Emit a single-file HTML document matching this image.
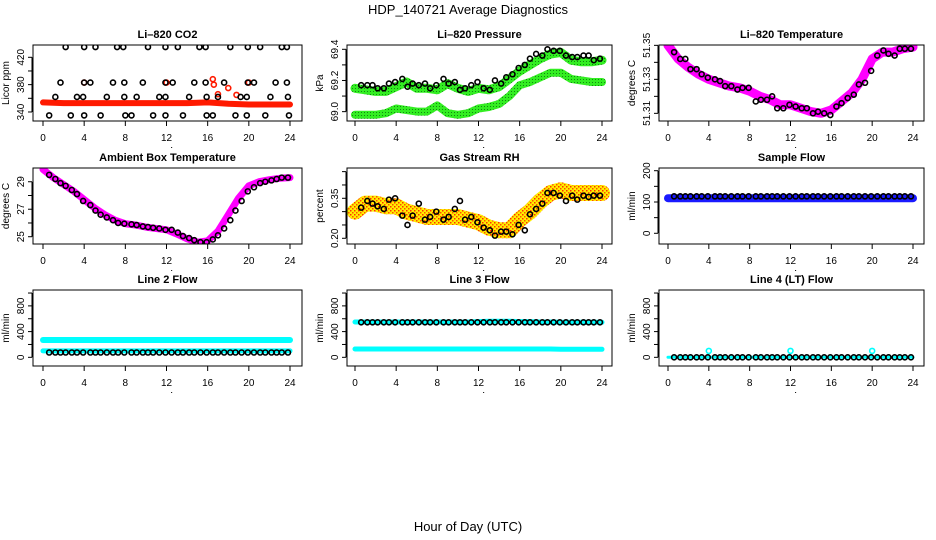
<!DOCTYPE html>
<html><head><meta charset="utf-8"><style>
html,body{margin:0;padding:0;background:#fff;}
svg{display:block;font-family:"Liberation Sans",sans-serif;}
</style></head><body>
<svg id="chart" width="936" height="540" viewBox="0 0 936 540">
<defs>
<pattern id="rhpat" width="4" height="4" patternUnits="userSpaceOnUse">
<rect width="4" height="4" fill="#ffee00"/><rect x="0" y="0" width="1.5" height="1.5" fill="#ff5000"/><rect x="2" y="2" width="1.5" height="1.5" fill="#ff3000"/>
</pattern>
<pattern id="grpat" width="3" height="3" patternUnits="userSpaceOnUse">
<rect width="3" height="3" fill="#33ee22"/><rect x="1" y="1" width="1" height="1" fill="#118811"/>
</pattern>
</defs>
<text x="468" y="14" text-anchor="middle" font-size="13">HDP_140721  Average Diagnostics</text>
<text x="468" y="531" text-anchor="middle" font-size="13">Hour of Day (UTC)</text>
</svg>
<script>
// shared categories
const HOURS = [0,1,2,3,4,5,6,7,8,9,10,11,12,13,14,15,16,17,18,19,20,21,22,23,24];
const PTS_T = [0.6,1.2,1.7,2.2,2.8,3.3,3.9,4.6,5.1,5.6,6.2,6.8,7.3,7.9,8.6,9.1,9.7,10.2,10.7,11.3,11.9,12.5,13.1,13.6,14.2,14.7,15.3,15.9,16.5,17.0,17.6,18.2,18.7,19.3,19.9,20.5,21.1,21.6,22.2,22.7,23.2,23.8];
const X_TICKS = [0,4,8,12,16,20,24];

// CO2
const co2Band = [354,353,353,353,353,353,353,353,354,352,351,351,351];
const co2BandT = [0,2,4,6,8,10,12,14,16,18,20,22,24];
const co2PtT = [2.2,4.0,5.1,7.2,7.8,10.2,11.9,13.1,15.2,15.8,18.2,19.9,21.1,23.2,23.7, 1.7,4.0,4.6,6.8,7.9,9.7,11.9,12.6,14.7,15.8,17.6,19.9,20.5,22.6,23.7, 1.2,3.3,3.9,6.2,7.9,9.1,11.3,11.9,14.2,15.9,17.0,19.2,19.8,22.1,23.8, 0.6,2.7,4.0,5.6,8.0,8.6,10.7,11.9,13.6,15.9,16.5,18.7,19.8,21.6,23.9];
const co2PtV = [435,435,435,435,435,435,435,435,435,435,435,435,435,435,435, 383,383,383,383,383,383,383,383,383,383,383,383,383,383,383, 362,362,362,362,362,362,362,362,362,362,362,362,362,362,362, 335,335,335,335,335,335,335,335,335,335,335,335,335,335,335];
const co2OutT = [4,12,16.5,16.6,17.0,18.0,18.8,20];
const co2OutV = [383,383,388,380,366,375,365,383];

// Pressure
const presUpper = [69.15,69.14,69.13,69.13,69.16,69.19,69.15,69.15,69.14,69.18,69.15,69.13,69.15,69.14,69.16,69.21,69.26,69.30,69.34,69.37,69.38,69.33,69.32,69.32,69.33];
const presLower = [68.98,68.98,68.98,68.99,69.02,69.01,69.00,69.00,69.04,68.99,68.98,68.99,69.02,69.03,69.05,69.10,69.17,69.19,69.22,69.25,69.25,69.21,69.20,69.19,69.19];
const presPts = [69.17,69.17,69.17,69.15,69.15,69.18,69.19,69.21,69.16,69.18,69.17,69.18,69.15,69.17,69.21,69.18,69.19,69.14,69.15,69.17,69.19,69.15,69.14,69.20,69.18,69.22,69.24,69.28,69.30,69.34,69.37,69.36,69.40,69.39,69.39,69.36,69.35,69.35,69.36,69.36,69.33,69.34];

// Li-820 temperature
const tempBand = [51.350,51.342,51.337,51.333,51.330,51.328,51.326,51.325,51.323,51.320,51.318,51.315,51.315,51.313,51.311,51.310,51.312,51.317,51.322,51.330,51.342,51.346,51.346,51.348,51.349];
const tempPts = [51.346,51.342,51.342,51.336,51.336,51.333,51.331,51.330,51.329,51.326,51.326,51.324,51.325,51.325,51.317,51.318,51.318,51.320,51.313,51.313,51.315,51.314,51.313,51.313,51.310,51.311,51.310,51.309,51.314,51.316,51.319,51.321,51.327,51.328,51.335,51.344,51.347,51.345,51.344,51.348,51.348,51.348];

// Ambient
const ambBand = [29.9,29.3,28.8,28.3,27.7,27.1,26.6,26.2,25.95,25.85,25.7,25.6,25.5,25.2,24.85,24.6,24.7,25.4,26.6,27.8,28.7,29.0,29.15,29.25,29.3];
const ambPts = [29.5,29.2,28.9,28.7,28.4,28.1,27.6,27.3,26.9,26.6,26.4,26.2,26.0,25.95,25.9,25.85,25.75,25.7,25.65,25.6,25.5,25.5,25.3,25.05,24.9,24.75,24.6,24.6,24.8,25.1,25.6,26.2,26.9,27.6,28.3,28.6,28.9,29.0,29.1,29.2,29.3,29.3];

// RH
const rhBand = [0.30,0.33,0.33,0.32,0.32,0.30,0.29,0.28,0.28,0.28,0.28,0.27,0.26,0.24,0.23,0.23,0.27,0.30,0.34,0.37,0.38,0.37,0.37,0.37,0.37];
const rhPts = [0.315,0.34,0.33,0.32,0.31,0.345,0.35,0.285,0.25,0.285,0.33,0.27,0.28,0.30,0.27,0.28,0.31,0.34,0.27,0.28,0.26,0.24,0.23,0.21,0.225,0.225,0.215,0.25,0.23,0.29,0.31,0.33,0.37,0.37,0.36,0.34,0.36,0.345,0.36,0.355,0.36,0.36];

// Flows
const sampleBand = [112,112,112,112,112,112,112,112,112,112,112,112,112,112,112,112,112,112,112,112,112,112,112,112,112];
const samplePt = 118;
const line2Upper = [270,270,270,270,270,270,270,270,270,270,270,270,270,270,270,270,270,270,270,270,270,270,270,270,270];
const line2Lower = [100,100,100,100,100,100,100,100,100,100,100,100,100,100,100,100,100,100,100,100,100,100,100,100,100];
const line2Pt = 75;
const line3Upper = [550,550,550,550,550,550,550,550,550,550,550,550,555,560,560,560,555,555,550,550,545,545,545,545,545];
const line3Lower = [130,130,130,130,130,130,130,130,130,130,130,130,130,130,130,130,130,130,130,130,125,125,125,125,125];
const line3Pt = 545;
const line4Band = [0,0,0,0,0,0,0,0,0,0,0,0,0,0,0,0,0,0,0,0,0,0,0,0,0];
const line4OutT = [4,12,20];
const line4OutV = [100,100,100];
const line4Pt = 0;

const NS = 'http://www.w3.org/2000/svg';
const svg = document.getElementById('chart');
function mk(tag, attrs, parent){const e=document.createElementNS(NS,tag);for(const k in attrs)e.setAttribute(k,attrs[k]);(parent||svg).appendChild(e);return e;}

const COLS = [{l:33,r:302,x0:43,x24:290},{l:347,r:612,x0:355,x24:602},{l:659,r:924,x0:668,x24:913}];
const ROWS = [{t:45,b:121},{t:168,b:244},{t:290,b:366}];

function panel(ci, ri, name, title, ytitle, ymin, ymax, yticks, ylabels){
  const c=COLS[ci], r=ROWS[ri];
  const g=mk('g',{});
  
  
  const xs=h=>c.x0+(c.x24-c.x0)*h/24;
  const ys=v=>r.b-(v-ymin)/(ymax-ymin)*(r.b-r.t);
  const t=mk('text',{x:(c.l+c.r)/2,y:r.t-7,'text-anchor':'middle','font-size':'11','font-weight':'bold'},g);
  t.textContent=title;
  
  
  const dataG=mk('g',{'clip-path':'url(#clip-'+name+')'},g);
  const cp=mk('clipPath',{id:'clip-'+name},g);
  mk('rect',{x:c.l,y:r.t,width:c.r-c.l,height:r.b-r.t},cp);
  const box=mk('rect',{x:c.l,y:r.t,width:c.r-c.l,height:r.b-r.t,fill:'none',stroke:'#000','stroke-width':'1'},g);
  
  
  const xa=mk('g',{},g);
  
  
  mk('line',{x1:xs(0),x2:xs(24),y1:r.b,y2:r.b,stroke:'#000'},xa);
  X_TICKS.forEach(h=>{
    mk('line',{x1:xs(h),x2:xs(h),y1:r.b,y2:r.b+5,stroke:'#000'},xa);
    const tl=mk('text',{x:xs(h),y:r.b+20,'text-anchor':'middle','font-size':'10'},xa);
    tl.textContent=h;
  });
  mk('rect',{x:xs(12.5)-0.5,y:r.b+26,width:1,height:1,fill:'#000'},xa);
  const ya=mk('g',{},g);
  
  
  const ax=c.l-1;
  mk('line',{x1:ax,x2:ax,y1:ys(yticks[0]),y2:ys(yticks[yticks.length-1]),stroke:'#000'},ya);
  yticks.forEach(v=>mk('line',{x1:ax-4,x2:ax,y1:ys(v),y2:ys(v),stroke:'#000'},ya));
  ylabels.forEach(v=>{
    const yy=ys(v), xx=ax-8;
    const tl=mk('text',{x:xx,y:yy,'text-anchor':'middle','font-size':'10',transform:'rotate(-90 '+xx+' '+yy+')'},ya);
    tl.textContent=v;
  });
  const yt=mk('text',{x:c.l-24,y:(r.t+r.b)/2,'text-anchor':'middle','font-size':'10',transform:'rotate(-90 '+(c.l-24)+' '+((r.t+r.b)/2)+')'},g);
  yt.textContent=ytitle;
  
  
  return {g:dataG,xs,ys};
}
function band(p, T, V, color, w, name){
  const pts=T.map((h,i)=>p.xs(h).toFixed(1)+','+p.ys(V[i]).toFixed(1)).join(' ');
  const e=mk('polyline',{points:pts,fill:'none',stroke:color,'stroke-width':w,'stroke-linejoin':'round','stroke-linecap':'round'},p.g);
  
  
}
function circles(p, T, V, color, name, rr){
  const gg=mk('g',{},p.g);
  
  
  T.forEach((h,i)=>{
    const e=mk('circle',{cx:p.xs(h),cy:p.ys(V[i]),r:rr||2.5,fill:'none',stroke:color,'stroke-width':'1.6'},gg);
    
    
  });
}
const flat=(v)=>PTS_T.map(()=>v);

let p=panel(0,0,'co2-panel','Li\u2013820 CO2','Licor ppm',326.8,438,[340,360,380,400,420],[340,380,420]);
band(p,co2BandT,co2Band,'#ff1a00',6,'co2-band');
circles(p,co2OutT,co2OutV,'#ff1a00','co2-outliers');
circles(p,co2PtT,co2PtV,'#000','co2-averages');

p=panel(1,0,'pressure-panel','Li\u2013820 Pressure','kPa',68.940,69.4276,[69.0,69.1,69.2,69.3,69.4],['69.0','69.2','69.4']);
band(p,HOURS,presUpper,'url(#grpat)',9,'pressure-upper-band');
band(p,HOURS,presLower,'url(#grpat)',8,'pressure-lower-band');
circles(p,PTS_T,presPts,'#000','pressure-averages');

p=panel(2,0,'temperature-panel','Li\u2013820 Temperature','degrees C',51.3055,51.3502,[51.31,51.32,51.33,51.34,51.35],['51.31','51.33','51.35']);
band(p,HOURS,tempBand,'#ff00ff',9,'temperature-band');
circles(p,PTS_T,tempPts,'#000','temperature-averages');

p=panel(0,1,'ambient-panel','Ambient Box Temperature','degrees C',24.47,30.0,[25,26,27,28,29],[25,27,29]);
band(p,HOURS,ambBand,'#ff00ff',7,'ambient-band');
circles(p,PTS_T,ambPts,'#000','ambient-averages');

p=panel(1,1,'rh-panel','Gas Stream RH','percent',0.1786,0.4636,[0.20,0.25,0.30,0.35,0.40,0.45],['0.20','0.35']);
band(p,HOURS,rhBand,'url(#rhpat)',16,'rh-band');
circles(p,PTS_T,rhPts,'#000','rh-averages');

p=panel(2,1,'sample-flow-panel','Sample Flow','ml/min',-34.2,208.6,[0,50,100,150,200],[0,100,200]);
band(p,HOURS,sampleBand,'#1a1aff',8,'sample-flow-band');
circles(p,PTS_T,flat(samplePt),'#000','sample-flow-averages');

p=panel(0,2,'line2-panel','Line 2 Flow','ml/min',-135,1047,[0,200,400,600,800,1000],[0,400,800]);
band(p,HOURS,line2Upper,'#00ffff',6,'line2-upper-band');
band(p,HOURS,line2Lower,'#00ffff',5,'line2-lower-band');
circles(p,PTS_T,flat(line2Pt),'#000','line2-averages');

p=panel(1,2,'line3-panel','Line 3 Flow','ml/min',-135,1047,[0,200,400,600,800,1000],[0,400,800]);
band(p,HOURS,line3Upper,'#00ffff',5,'line3-upper-band');
band(p,HOURS,line3Lower,'#00ffff',5,'line3-lower-band');
circles(p,PTS_T,flat(line3Pt),'#000','line3-averages');

p=panel(2,2,'line4-panel','Line 4 (LT) Flow','ml/min',-135,1047,[0,200,400,600,800,1000],[0,400,800]);
band(p,HOURS,line4Band,'#00ffff',3,'line4-band');
circles(p,line4OutT,line4OutV,'#00ffff','line4-outliers');
circles(p,PTS_T,flat(line4Pt),'#000','line4-averages');
</script>
</body></html>
